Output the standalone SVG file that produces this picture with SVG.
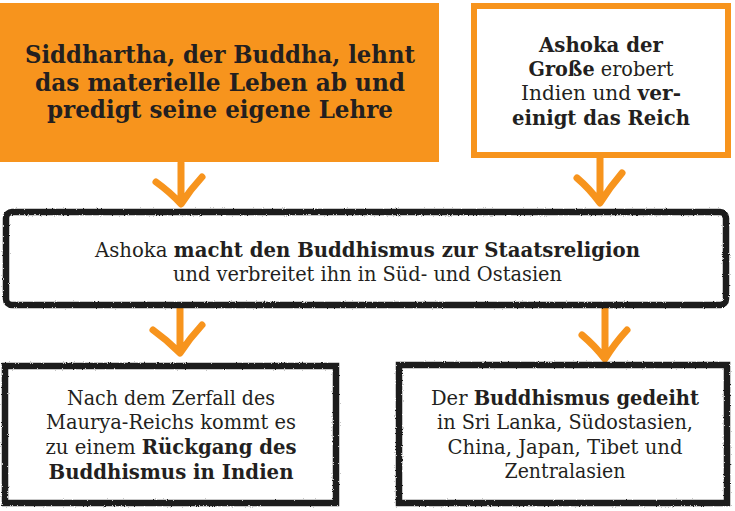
<svg xmlns="http://www.w3.org/2000/svg" width="735" height="511" viewBox="0 0 735 511">
<style>
  text { font-family: "DejaVu Serif", "Liberation Serif", serif; fill: #231f20; text-anchor: middle; }
  .t20 { font-size: 20px; font-weight: normal; }
  .t24 { font-size: 24px; font-weight: bold; }
  .b { font-weight: bold; }
  .dark { fill: #ffffff; stroke: #1c1c1c; stroke-width: 6.5; filter: url(#rough); }
  .arrow { fill: none; stroke: #f7941d; stroke-width: 7; stroke-linecap: round; stroke-linejoin: round; }
</style>
<defs>
  <filter id="rough" x="-2%" y="-5%" width="104%" height="110%">
    <feTurbulence type="fractalNoise" baseFrequency="0.9" numOctaves="2" seed="3" result="n"/>
    <feDisplacementMap in="SourceGraphic" in2="n" scale="2.5" xChannelSelector="R" yChannelSelector="G"/>
  </filter>
</defs>
<rect width="735" height="511" fill="#ffffff"/>

<g id="connectors">
  <path class="arrow" d="M181 163 L181 203 M156 182 Q170 192 181 204 Q190 190 202 177"/>
  <path class="arrow" d="M600 158 L600 202 M577 178 Q590 189 600 203 Q610 187 622 173"/>
  <path class="arrow" d="M180 309 L180 352 M153 330 Q167 340 180 353 Q190 338 202 325"/>
  <path class="arrow" d="M605 309 L605 358 M582 335 Q595 346 605 359 Q615 343 627 330"/>
</g>

<g id="node-siddhartha">
  <rect x="0" y="3" width="439" height="159" fill="#f7941d"/>
  <text class="t24" x="220" y="63" textLength="390" lengthAdjust="spacingAndGlyphs">Siddhartha, der Buddha, lehnt</text>
  <text class="t24" x="220" y="91" textLength="370" lengthAdjust="spacingAndGlyphs">das materielle Leben ab und</text>
  <text class="t24" x="220" y="118" textLength="346" lengthAdjust="spacingAndGlyphs">predigt seine eigene Lehre</text>
</g>

<g id="node-ashoka">
  <rect x="474" y="6" width="254" height="149" fill="#ffffff" stroke="#f7941d" stroke-width="6"/>
  <text class="t20" x="601" y="52" textLength="124" lengthAdjust="spacingAndGlyphs"><tspan class="b">Ashoka der</tspan></text>
  <text class="t20" x="601" y="76" textLength="145" lengthAdjust="spacingAndGlyphs"><tspan class="b">Große</tspan> erobert</text>
  <text class="t20" x="601" y="100" textLength="160" lengthAdjust="spacingAndGlyphs">Indien und <tspan class="b">ver-</tspan></text>
  <text class="t20" x="601" y="125" textLength="178" lengthAdjust="spacingAndGlyphs"><tspan class="b">einigt das Reich</tspan></text>
</g>

<g id="node-staatsreligion">
  <rect class="dark" x="6" y="212" width="720" height="93" rx="6"/>
  <text class="t20" x="367.5" y="257" textLength="545" lengthAdjust="spacingAndGlyphs">Ashoka <tspan class="b">macht den Buddhismus zur Staatsreligion</tspan></text>
  <text class="t20" x="367.5" y="281" textLength="389" lengthAdjust="spacingAndGlyphs">und verbreitet ihn in Süd- und Ostasien</text>
</g>

<g id="node-rueckgang">
  <rect class="dark" x="5" y="366" width="331" height="137"/>
  <text class="t20" x="171" y="405" textLength="208" lengthAdjust="spacingAndGlyphs">Nach dem Zerfall des</text>
  <text class="t20" x="171" y="429" textLength="250" lengthAdjust="spacingAndGlyphs">Maurya-Reichs kommt es</text>
  <text class="t20" x="171" y="454" textLength="251" lengthAdjust="spacingAndGlyphs">zu einem <tspan class="b">Rückgang des</tspan></text>
  <text class="t20" x="171" y="479" textLength="245" lengthAdjust="spacingAndGlyphs"><tspan class="b">Buddhismus in Indien</tspan></text>
</g>

<g id="node-gedeiht">
  <rect class="dark" x="399" y="365" width="328" height="138"/>
  <text class="t20" x="565" y="405" textLength="268" lengthAdjust="spacingAndGlyphs">Der <tspan class="b">Buddhismus gedeiht</tspan></text>
  <text class="t20" x="565" y="429" textLength="256" lengthAdjust="spacingAndGlyphs">in Sri Lanka, Südostasien,</text>
  <text class="t20" x="565" y="454" textLength="235" lengthAdjust="spacingAndGlyphs">China, Japan, Tibet und</text>
  <text class="t20" x="565" y="478" textLength="121" lengthAdjust="spacingAndGlyphs">Zentralasien</text>
</g>
</svg>
